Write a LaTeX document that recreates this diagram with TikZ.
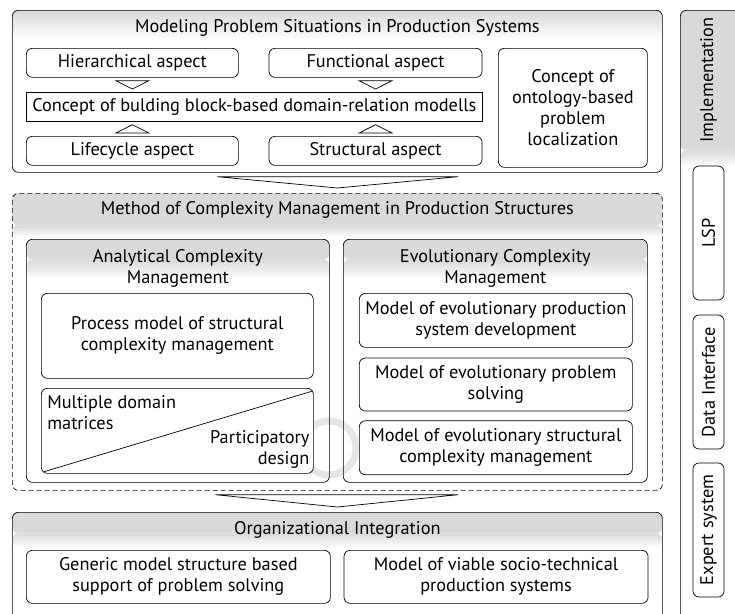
\documentclass[tikz,border=0pt]{standalone}
\usepackage{fontspec}
\setmainfont{PT Sans}
\usetikzlibrary{positioning,calc}
\definecolor{hdgray}{RGB}{217,217,217}
\definecolor{ringgray}{RGB}{230,230,230}
\tikzset{
  header/.style 2 args={path picture={
      \fill[hdgray] (path picture bounding box.north west) rectangle ([yshift=-#1]path picture bounding box.north east);
      \shade[top color=hdgray,bottom color=white] ([yshift=-#1]path picture bounding box.north west) rectangle ([yshift=-#2]path picture bounding box.north east);
  }},
  frame/.style={draw,rounded corners=6pt,anchor=north west,inner sep=0pt},
  item/.style={draw,fill=white,rounded corners=6pt,anchor=north west,align=center,inner sep=0pt},
  ttl/.style={align=center,inner sep=0pt},
  tri/.style={draw,fill=white},
}
\begin{document}
\begin{tikzpicture}[x=1pt,y=-1pt,font=\fontsize{18.3}{21}\selectfont,line width=0.7pt]
  \useasboundingbox (0,0) rectangle (735,613);

  % modeling problem situations
  \node[frame,header={0pt}{30pt},minimum width=650pt,minimum height=162pt] (modeling) at (12,10) {};
  \node[ttl] (modeling-title) at ($(modeling.north)+(0,18)$) {Modeling Problem Situations in Production Systems};
  \node[item,minimum width=212pt,minimum height=29pt] (hier) at (26,48) {Hierarchical aspect};
  \node[item,minimum width=213pt,minimum height=29pt] (func) [right=30pt of hier] {Functional aspect};
  \node[item,sharp corners,minimum width=456pt,minimum height=29pt] (concept) at (26,92) {Concept of bulding block-based domain-relation modells};
  \node[item,minimum width=212pt,minimum height=29pt] (life) at (26,136) {Lifecycle aspect};
  \node[item,minimum width=213pt,minimum height=29pt] (struct) [right=30pt of life] {Structural aspect};
  \node[item,minimum width=149pt,minimum height=119pt] (onto) at (498,48) {Concept of\\ ontology-based\\ problem\\ localization};

  \foreach \a in {hier,func}{
    \draw[tri] ($(\a.south)+(-16.5,3)$) -- ($(\a.south)+(16.5,3)$) -- ($(\a.south |- concept.north)+(0,-3)$) -- cycle;
  }
  \foreach \a in {life,struct}{
    \draw[tri] ($(\a.north)+(-16.5,-3)$) -- ($(\a.north)+(16.5,-3)$) -- ($(\a.north |- concept.south)+(0,3)$) -- cycle;
  }

  % complexity management
  \node[frame,dashed,dash pattern=on 5pt off 3pt,header={32pt}{44pt},minimum width=650pt,minimum height=297pt] (method) at (12,193) {};
  \node[ttl] (method-title) at ($(method.north)+(0,17)$) {Method of Complexity Management in Production Structures};
  \draw[ringgray,line width=7pt] (329,448) circle[radius=27];

  \node[frame,header={20pt}{40pt},minimum width=303pt,minimum height=243pt] (analytical) at (26,239) {};
  \node[ttl] (analytical-title) at ($(analytical.north)+(0,29)$) {Analytical Complexity\\ Management};
  \node[item,minimum width=272pt,minimum height=85pt] (process) at (41,293) {Process model of structural\\ complexity management};
  \node[item,minimum width=272pt,minimum height=85pt] (mdm) at (41,388) {};
  \draw ($(mdm.south west)+(3,-2)$) -- ($(mdm.north east)+(-1,3)$);
  \node[ttl,anchor=north west,align=left] (mdm-text) at ($(mdm.north west)+(6,7)$) {Multiple domain\\ matrices};
  \node[ttl,anchor=south east,align=right] (pd-text) at ($(mdm.south east)+(-4,-5)$) {Participatory\\ design};

  \node[frame,header={20pt}{40pt},minimum width=304pt,minimum height=243pt] (evolutionary) at (343,239) {};
  \node[ttl] (evolutionary-title) at ($(evolutionary.north)+(0,29)$) {Evolutionary Complexity\\ Management};
  \node[item,minimum width=273pt,minimum height=54pt] (evo-dev) at (359,293) {Model of evolutionary production\\ system development};
  \node[item,minimum width=273pt,minimum height=53pt] (evo-solve) [below=10pt of evo-dev] {Model of evolutionary problem\\ solving};
  \node[item,minimum width=273pt,minimum height=54pt] (evo-scm) [below=9pt of evo-solve] {Model of evolutionary structural\\ complexity management};

  % organizational integration
  \node[frame,header={21pt}{35pt},minimum width=650pt,minimum height=110pt] (org) at (12,512) {};
  \node[ttl] (org-title) at ($(org.north)+(0,18)$) {Organizational Integration};
  \node[item,minimum width=304pt,minimum height=53pt] (generic) at (26,550) {Generic model structure based\\ support of problem solving};
  \node[item,minimum width=304pt,minimum height=53pt] (viable) [right=13pt of generic] {Model of viable socio-technical\\ production systems};

  \draw[tri] ($(modeling.south)+(-120,4)$) -- ($(modeling.south)+(121,4)$) -- ($(method.north)+(0,-5)$) -- cycle;
  \draw[tri] ($(method.south)+(-122,4)$) -- ($(method.south)+(121,4)$) -- ($(org.north)+(0,-5)$) -- cycle;

  % implementation
  \node[frame,header={140pt}{156pt},minimum width=70pt,minimum height=612pt] (impl) at (680,10) {};
  \node[ttl,rotate=90] (impl-title) at (708.5,80) {Implementation};
  \node[item,anchor=center,rotate=90,minimum width=134pt,minimum height=31pt] (lsp) at (708.5,233) {LSP};
  \node[item,anchor=center,rotate=90,minimum width=134pt,minimum height=31pt] (data) at (708.5,382) {Data Interface};
  \node[item,anchor=center,rotate=90,minimum width=134pt,minimum height=31pt] (expert) at (708.5,530) {Expert system};
\end{tikzpicture}
\end{document}
